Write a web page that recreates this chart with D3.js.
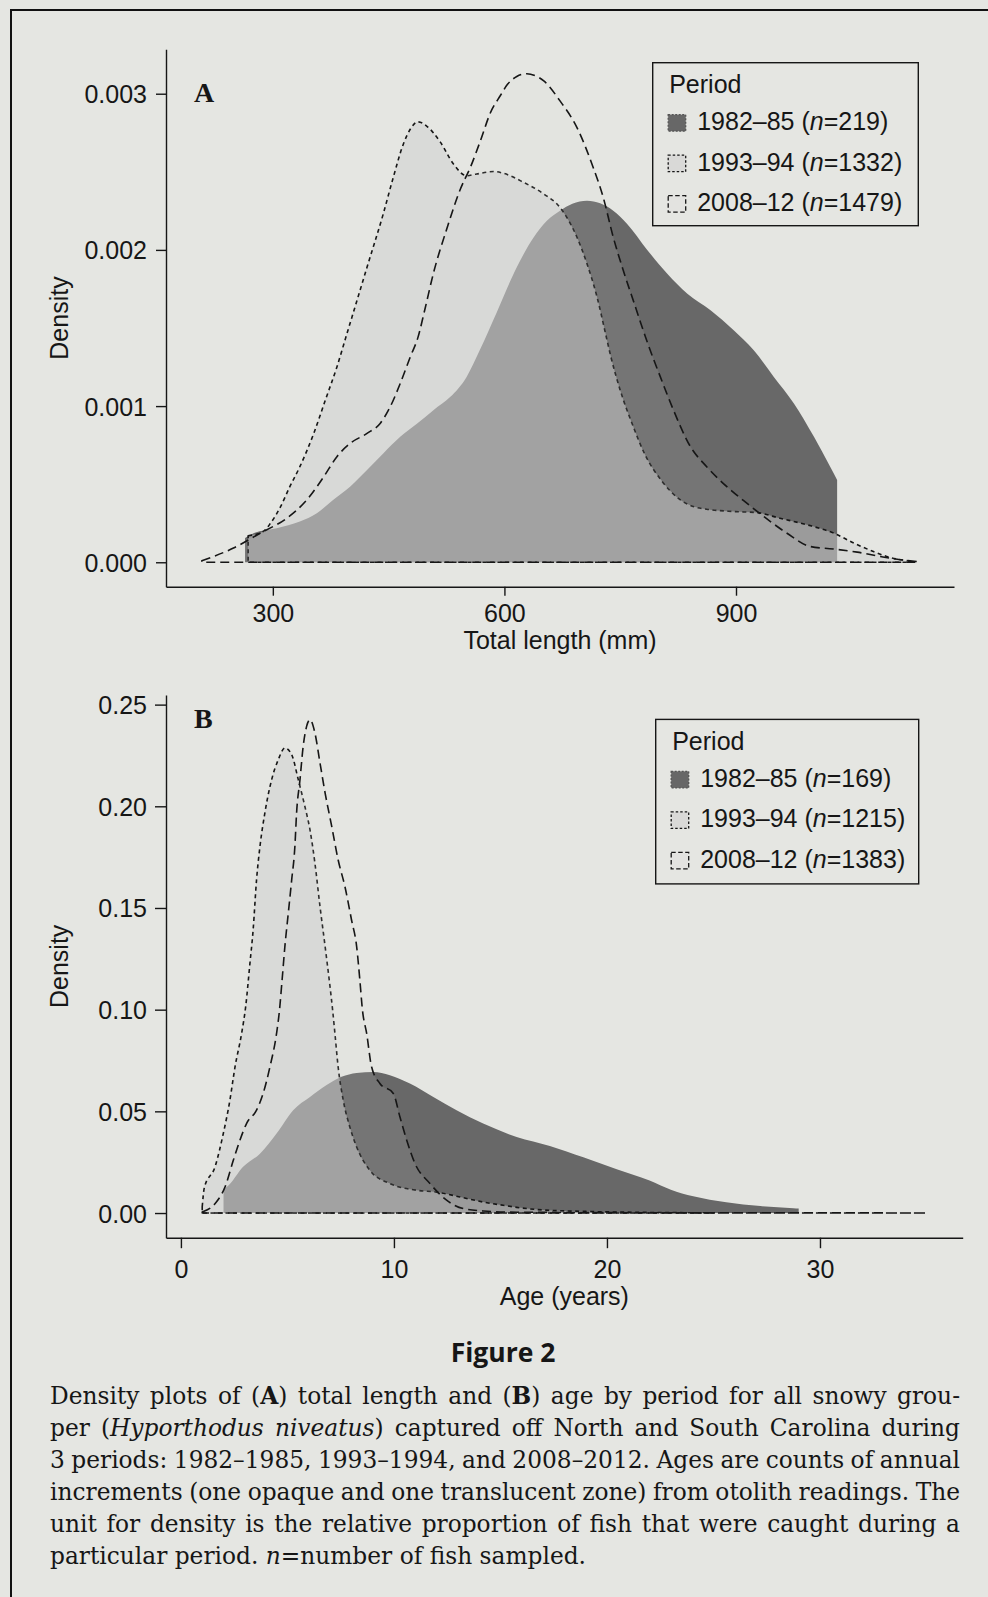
<!DOCTYPE html>
<html>
<head>
<meta charset="utf-8">
<script src="https://cdn.jsdelivr.net/npm/d3@7/dist/d3.min.js"></script>
<style>
  html, body { margin: 0; padding: 0; background: #e5e6e2; }
  svg { display: block; }
</style>
</head>
<body>
<svg id="fig" width="988" height="1597"></svg>
<script>
// ---------------- data ----------------
const periods = ["1982–85", "1993–94", "2008–12"];
const lengthCounts = [219, 1332, 1479];
const ageCounts = [169, 1215, 1383];

const lengthTicks = [300, 600, 900];
const lengthDensityTicks = [0, 0.001, 0.002, 0.003];
const ageTicks = [0, 10, 20, 30];
const ageDensityTicks = [0, 0.05, 0.10, 0.15, 0.20, 0.25];

// Kernel density of total length (mm), per period
const length1982 = [
  [264,0.000156],[275,0.000186],[305,0.000218],[335,0.000261],[357,0.000314],[378,0.000399],
  [400,0.000484],[422,0.000591],[443,0.000697],[465,0.000803],[487,0.000889],[508,0.000974],
  [530,0.001059],[551,0.001187],[568,0.001357],[590,0.001600],[616,0.001889],[638,0.002081],
  [655,0.002187],[672,0.002251],[688,0.002296],[707,0.002315],[724,0.002298],[741,0.002251],
  [759,0.002166],[785,0.002000],[811,0.001847],[837,0.001719],[867,0.001613],[897,0.001485],
  [923,0.001357],[949,0.001187],[975,0.001017],[1001,0.000803],[1022,0.000612],[1031,0.000527]
];
const length1993 = [
  [268,0.000170],[287,0.000195],[297,0.000250],[310,0.000356],[322,0.000484],[335,0.000612],
  [353,0.000825],[368,0.001038],[383,0.001251],[396,0.001464],[409,0.001676],[422,0.001889],
  [443,0.002230],[456,0.002464],[469,0.002677],[479,0.002780],[488,0.002820],[500,0.002790],
  [517,0.002690],[534,0.002550],[551,0.002475],[564,0.002486],[586,0.002502],[599,0.002490],
  [625,0.002432],[651,0.002358],[672,0.002272],[694,0.002081],[707,0.001911],[720,0.001698],
  [731,0.001464],[738,0.001314],[750,0.001102],[766,0.000880],[782,0.000690],[804,0.000520],
  [828,0.000399],[846,0.000355],[862,0.000340],[897,0.000325],[927,0.000318],[957,0.000282],
  [992,0.000240],[1027,0.000186],[1053,0.000122],[1078,0.000069],[1100,0.000030],[1125,0.000008]
];
const length2008 = [
  [208,0.000010],[249,0.000091],[284,0.000187],[318,0.000282],[344,0.000399],[366,0.000548],
  [383,0.000676],[400,0.000761],[422,0.000825],[439,0.000889],[452,0.000995],[465,0.001145],
  [478,0.001314],[488,0.001440],[497,0.001620],[508,0.001850],[526,0.002145],[543,0.002390],
  [556,0.002530],[569,0.002700],[582,0.002880],[595,0.002990],[604,0.003060],[616,0.003110],
  [629,0.003128],[640,0.003115],[651,0.003082],[672,0.002954],[694,0.002783],[715,0.002528],
  [728,0.002336],[741,0.002081],[754,0.001868],[768,0.001660],[785,0.001410],[802,0.001187],
  [819,0.000974],[841,0.000740],[862,0.000612],[893,0.000463],[914,0.000378],[936,0.000293],
  [966,0.000186],[996,0.000101],[1026,0.000085],[1057,0.000065],[1087,0.000037],[1113,0.000016],
  [1136,0.000004]
];

// Kernel density of age (years), per period
const age1982 = [
  [2.0,0.0120],[2.15,0.0128],[2.92,0.0227],[3.71,0.0292],[4.49,0.0391],[5.27,0.0506],
  [6.06,0.0571],[6.84,0.0629],[7.54,0.0670],[8.25,0.0689],[9.03,0.0694],[9.81,0.0678],
  [10.75,0.0637],[11.85,0.0571],[12.94,0.0506],[14.19,0.0440],[15.76,0.0374],[17.32,0.0330],
  [18.89,0.0274],[20.46,0.0215],[22.0,0.0160],[23.0,0.0115],[24.05,0.0082],[25.6,0.0053],
  [27.2,0.0034],[28.75,0.0024],[29.0,0.0022]
];
const age1993 = [
  [1.0,0.0030],[1.1,0.0125],[1.6,0.0227],[1.99,0.0391],[2.30,0.0555],[2.54,0.0719],
  [2.85,0.0883],[3.04,0.1015],[3.24,0.1228],[3.39,0.1392],[3.55,0.1638],[3.71,0.1802],
  [3.94,0.1967],[4.26,0.2131],[4.57,0.2229],[4.88,0.2287],[5.20,0.2254],[5.51,0.2131],
  [5.82,0.1999],[6.06,0.1884],[6.29,0.1721],[6.53,0.1507],[6.77,0.1310],[7.00,0.1113],
  [7.12,0.1000],[7.23,0.0883],[7.38,0.0719],[7.62,0.0555],[7.93,0.0423],[8.25,0.0325],
  [8.87,0.0210],[9.81,0.0145],[11.07,0.0112],[12.0,0.0103],[13.1,0.0079],[14.19,0.0054],
  [15.13,0.0038],[15.76,0.0028],[17.0,0.0015],[19.0,0.0008],[22.0,0.0003],[25.0,0.0001]
];
const age2008 = [
  [1.0,0.0005],[1.6,0.0046],[2.07,0.0128],[2.46,0.0259],[2.77,0.0358],[3.08,0.0440],
  [3.55,0.0506],[3.86,0.0588],[4.18,0.0719],[4.49,0.0883],[4.62,0.0990],[4.75,0.1146],
  [4.88,0.1310],[5.04,0.1474],[5.20,0.1638],[5.35,0.1802],[5.43,0.1967],[5.59,0.2131],
  [5.74,0.2295],[5.90,0.2393],[6.06,0.2426],[6.29,0.2361],[6.53,0.2213],[6.77,0.2065],
  [7.08,0.1901],[7.38,0.1737],[7.70,0.1605],[8.01,0.1441],[8.25,0.1310],[8.40,0.1146],
  [8.52,0.1000],[8.72,0.0883],[8.95,0.0719],[9.34,0.0637],[9.97,0.0588],[10.28,0.0473],
  [10.60,0.0358],[10.99,0.0243],[11.69,0.0145],[12.47,0.0063],[13.25,0.0022],[14.19,0.0010],
  [15.0,0.0005],[20.0,0.0002],[25.0,0.0001],[30.0,0.0001],[35.0,0.0000]
];

const captionTitle = "Figure 2";
const captionLines = [
  "Density plots of (**A**) total length and (**B**) age by period for all snowy grou-",
  "per (*Hyporthodus niveatus*) captured off North and South Carolina during",
  "3 periods: 1982–1985, 1993–1994, and 2008–2012. Ages are counts of annual",
  "increments (one opaque and one translucent zone) from otolith readings. The",
  "unit for density is the relative proportion of fish that were caught during a",
  "particular period. *n*=number of fish sampled."
];

// ---------------- styles ----------------
const INK = "#161616";
const PAPER = "#e5e6e2";
const SANS = "'Liberation Sans', Arial, Helvetica, sans-serif";
const periodFill = ["#686868", "#cdcdcd", "#d4d4d4"];
const periodFillOpacity = [1, 0.5, 0.12];
const periodStroke = ["none", INK, INK];
const periodDash = [null, "4 3.5", "9 5"];
const keyFill = ["#676767", "#d9d9d7", "#e3e3e0"];
const keyStroke = ["#555", INK, INK];
const keyDash = ["2 1.5", "2.5 2", "4.5 2.5"];

const svg = d3.select("#fig");
svg.append("rect").attr("width", 988).attr("height", 1597).attr("fill", PAPER);

// page frame (left and top rules)
svg.append("path")
  .attr("d", "M11,1597 L11,10 L988,10")
  .attr("fill", "none").attr("stroke", "#111").attr("stroke-width", 2);

const panels = [
  {
    series: [length1982, length1993, length2008], counts: lengthCounts,
    xTicks: lengthTicks, yTicks: lengthDensityTicks, yFmt: ".3f",
    xTitle: "Total length (mm)", tag: "A",
    left: 166, right: 954, top: 49.3, bottom: 586.7,
    xTickLen: 9, xPad: 9, yTickLen: 10, titleY: 649, tagPos: [194, 101.7],
    legend: { x: 652.7, y: 62.7, w: 265.6, h: 163 }
  },
  {
    series: [age1982, age1993, age2008], counts: ageCounts,
    xTicks: ageTicks, yTicks: ageDensityTicks, yFmt: ".2f",
    xTitle: "Age (years)", tag: "B",
    left: 166, right: 962.7, top: 695, bottom: 1237.7,
    xTickLen: 10.5, xPad: 12.5, yTickLen: 11, titleY: 1305, tagPos: [194, 728.3],
    legend: { x: 655.7, y: 719.4, w: 263, h: 164.5 }
  }
];

const LABEL_RIGHT = 147;   // right edge of the density tick labels

panels.forEach(p => {
  const all = p.series.flat();
  const [xmin, xmax] = d3.extent(all, d => d[0]);
  const ymax = d3.max(all, d => d[1]);
  const xs = (xmax - xmin) * 0.05;
  const x = d3.scaleLinear().domain([xmin - xs, xmax + xs]).range([p.left, p.right]);
  const y = d3.scaleLinear().domain([-0.05 * ymax, 1.05 * ymax]).range([p.bottom, p.top]);

  const g = svg.append("g");

  // density polygons, drawn in period order
  const area = d3.area()
    .x(d => x(d[0])).y0(y(0)).y1(d => y(d[1]))
    .curve(d3.curveMonotoneX);
  p.series.forEach((s, i) => {
    g.append("path")
      .attr("d", area(s))
      .attr("fill", periodFill[i])
      .attr("fill-opacity", periodFillOpacity[i])
      .attr("stroke", periodStroke[i])
      .attr("stroke-width", 1.6)
      .attr("stroke-dasharray", periodDash[i])
      .attr("stroke-linejoin", "round");
  });

  // axes
  const ax = g.append("g").attr("transform", `translate(0,${p.bottom})`)
    .call(d3.axisBottom(x).tickValues(p.xTicks).tickFormat(d3.format("d"))
      .tickSizeInner(p.xTickLen).tickSizeOuter(0).tickPadding(p.xPad));
  const ay = g.append("g").attr("transform", `translate(${p.left},0)`)
    .call(d3.axisLeft(y).tickValues(p.yTicks).tickFormat(d3.format(p.yFmt))
      .tickSizeInner(p.yTickLen).tickSizeOuter(0).tickPadding(9));
  [ax, ay].forEach(a => {
    a.select(".domain").attr("stroke", INK).attr("stroke-width", 1.4);
    a.selectAll(".tick line").attr("stroke", INK).attr("stroke-width", 1.4);
    a.selectAll(".tick text").attr("fill", INK).style("font-family", SANS).style("font-size", "25px");
  });
  ay.selectAll(".tick text").attr("x", -(p.left - LABEL_RIGHT)).attr("dy", "0.36em");

  // axis titles
  g.append("text")
    .attr("x", (p.left + p.right) / 2).attr("y", p.titleY)
    .attr("text-anchor", "middle").attr("fill", INK)
    .style("font-family", SANS).style("font-size", "25px")
    .text(p.xTitle);
  g.append("text")
    .attr("transform", `translate(68,${(p.top + p.bottom) / 2}) rotate(-90)`)
    .attr("text-anchor", "middle").attr("fill", INK)
    .style("font-family", SANS).style("font-size", "25px")
    .text("Density");

  // panel tag
  g.append("text")
    .attr("x", p.tagPos[0]).attr("y", p.tagPos[1])
    .attr("fill", INK)
    .style("font-family", "'Liberation Serif', 'Times New Roman', serif")
    .style("font-weight", "bold").style("font-size", "28px")
    .text(p.tag);

  // legend
  const L = p.legend;
  const lg = g.append("g").attr("transform", `translate(${L.x},${L.y})`);
  lg.append("rect").attr("width", L.w).attr("height", L.h)
    .attr("fill", PAPER).attr("stroke", INK).attr("stroke-width", 1.4);
  lg.append("text").attr("x", 16.5).attr("y", 30.5).attr("fill", INK)
    .style("font-family", SANS).style("font-size", "25px").text("Period");
  periods.forEach((name, i) => {
    const by = 67.5 + 40.5 * i;
    lg.append("rect")
      .attr("x", 15.5).attr("y", by - 15.5).attr("width", 17.5).attr("height", 16.5)
      .attr("fill", keyFill[i]).attr("stroke", keyStroke[i])
      .attr("stroke-width", 1.3).attr("stroke-dasharray", keyDash[i]);
    const t = lg.append("text").attr("x", 44.5).attr("y", by).attr("fill", INK)
      .style("font-family", SANS).style("font-size", "25px");
    t.append("tspan").text(`${name} (`);
    t.append("tspan").style("font-style", "italic").text("n");
    t.append("tspan").text(`=${p.counts[i]})`);
  });
});

// ---------------- caption ----------------
svg.append("text")
  .attr("x", 503).attr("y", 1361.7).attr("text-anchor", "middle").attr("fill", INK)
  .style("font-family", "'Open Sans', 'Liberation Sans', sans-serif")
  .style("font-weight", "700").style("font-size", "26.5px")
  .text(captionTitle);

const SERIF = "'DejaVu Serif', 'Liberation Serif', serif";
const CAP_SIZE = 23.3;
const capLeft = 50, capRight = 960, capTop = 1404, capLead = 32;

// split a line into words; **…** marks bold runs, *…* italic runs
function parseWords(line) {
  let bold = false, italic = false, buf = "";
  const words = [[]];
  const flush = () => { if (buf) { words[words.length - 1].push({ t: buf, b: bold, i: italic }); buf = ""; } };
  for (let k = 0; k < line.length; k++) {
    if (line.startsWith("**", k)) { flush(); bold = !bold; k++; continue; }
    if (line[k] === "*") { flush(); italic = !italic; continue; }
    if (line[k] === " ") { flush(); words.push([]); continue; }
    buf += line[k];
  }
  flush();
  return words.filter(w => w.length);
}

const capG = svg.append("g").attr("fill", INK)
  .style("font-family", SERIF).style("font-size", CAP_SIZE + "px");

// natural width of a word space
const probeA = capG.append("text").text("aa");
const probeB = capG.append("text").text("a a").attr("xml:space", "preserve").style("white-space", "pre");
const spaceW = probeB.node().getComputedTextLength() - probeA.node().getComputedTextLength();
probeA.remove(); probeB.remove();

// justified lines; the last line is set ragged
captionLines.forEach((line, li) => {
  const words = parseWords(line);
  const yb = capTop + capLead * li;
  const nodes = words.map(w => {
    const t = capG.append("text").attr("y", yb);
    w.forEach(r => {
      const ts = t.append("tspan").text(r.t);
      if (r.b) ts.style("font-weight", "bold");
      if (r.i) ts.style("font-style", "italic");
    });
    return t;
  });
  const widths = nodes.map(n => n.node().getComputedTextLength());
  const total = d3.sum(widths);
  const last = li === captionLines.length - 1;
  const gap = last ? spaceW : (capRight - capLeft - total) / (words.length - 1);
  let cx = capLeft;
  nodes.forEach((n, k) => { n.attr("x", cx); cx += widths[k] + gap; });
});
</script>
</body>
</html>
